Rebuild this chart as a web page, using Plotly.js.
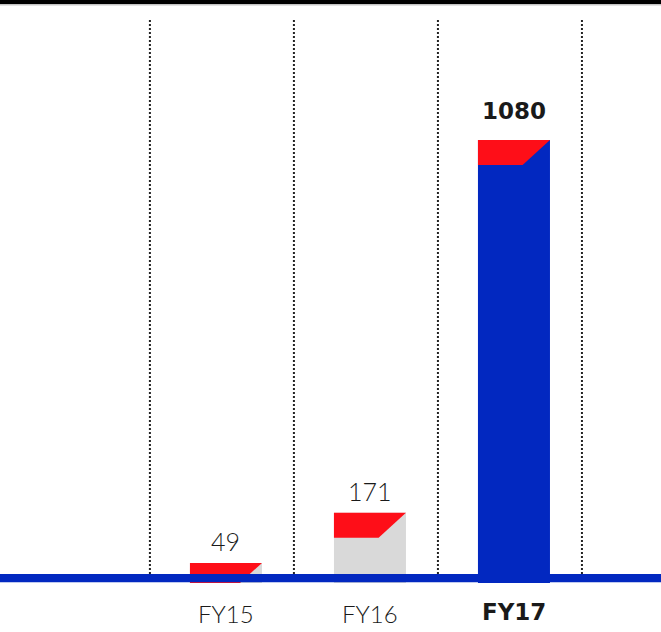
<!DOCTYPE html>
<html>
<head>
<meta charset="utf-8">
<script src="https://cdn.plot.ly/plotly-3.0.1.min.js"></script>
<style>html,body{margin:0;padding:0;background:#fff;}#chart{width:661px;height:632px;}</style>
</head>
<body>
<div id="chart"></div>
<script>
// ---- data ----
var categories = ['FY15', 'FY16', 'FY17'];
var values = [49, 171, 1080];
var barColors = ['#d9d9d9', '#d9d9d9', '#0228c0'];
var boldCategory = [false, false, true];

// ---- style constants ----
var RED = '#fe0e18';
var BLUE = '#0228c0';
var HALF = 0.25;      // half bar width (x units)
var CAP = 61;         // red cap depth (y units)
var RUN = 0.19;       // horizontal run of the diagonal (x units)

var xs = categories.map(function (c, i) { return i; });

var traces = [{
  type: 'bar',
  x: xs,
  y: values,
  width: HALF * 2,
  marker: {color: barColors, line: {width: 0}},
  hoverinfo: 'skip'
}];

// red caps with diagonal cut, clipped at zero
values.forEach(function (v, i) {
  var c = xs[i];
  var px = [c - HALF, c + HALF];
  var py = [v, v];
  if (v - CAP >= 0) {
    px.push(c + HALF - RUN, c - HALF);
    py.push(v - CAP, v - CAP);
  } else {
    px.push(c + HALF - RUN * v / CAP, c - HALF);
    py.push(0, 0);
  }
  px.push(c - HALF); py.push(v);
  traces.push({
    type: 'scatter', mode: 'lines', x: px, y: py,
    fill: 'toself', fillcolor: RED, line: {width: 0, color: RED},
    hoverinfo: 'skip', showlegend: false
  });
});

var shapes = [];
// dotted separators
[-0.528, 0.472, 1.472, 2.472].forEach(function (d) {
  shapes.push({type: 'line', xref: 'x', yref: 'y', x0: d, x1: d, y0: 22, y1: 1377,
    line: {color: '#222222', width: 2, dash: '2px,2px'}, layer: 'below'});
});
// top black rule
shapes.push({type: 'rect', xref: 'paper', yref: 'paper', x0: 0, x1: 1, y0: 1 - 4.3 / 632, y1: 1,
  fillcolor: '#000000', line: {width: 0}});
shapes.push({type: 'line', xref: 'paper', yref: 'paper', x0: 0, x1: 1, y0: 1 - 5 / 632, y1: 1 - 5 / 632,
  line: {color: '#c8c8c8', width: 1}});
// blue baseline
shapes.push({type: 'rect', xref: 'paper', yref: 'y', x0: 0, x1: 1, y0: 1.5, y1: 21.9,
  fillcolor: BLUE, line: {width: 0}, layer: 'above'});

var annotations = [];
values.forEach(function (v, i) {
  var b = boldCategory[i];
  annotations.push({
    x: xs[i], y: v, xref: 'x', yref: 'y', yanchor: 'bottom', yshift: b ? 14 : 5, showarrow: false,
    text: b ? '<b>' + v + '</b>' : String(v),
    font: b ? {family: 'DejaVu Sans, sans-serif', size: 23, color: '#1a1a1a', weight: 700}
            : {family: 'Lato, sans-serif', size: 25, color: '#1a1a1a', weight: 300}
  });
  annotations.push({
    x: xs[i], y: 0, xref: 'x', yref: 'y', yanchor: 'top', yshift: -14, showarrow: false,
    text: b ? '<b>' + categories[i] + '</b>' : categories[i],
    font: b ? {family: 'DejaVu Sans, sans-serif', size: 23, color: '#1a1a1a', weight: 700}
            : {family: 'Lato, sans-serif', size: 24, color: '#1a1a1a', weight: 300}
  });
});

var layout = {
  width: 661, height: 632,
  margin: {l: 0, r: 0, t: 0, b: 0, pad: 0},
  paper_bgcolor: '#ffffff', plot_bgcolor: '#ffffff',
  showlegend: false,
  xaxis: {range: [-1.569, 3.021], visible: false, fixedrange: true},
  yaxis: {range: [-119.5, 1421.3], visible: false, fixedrange: true},
  shapes: shapes,
  annotations: annotations
};

Plotly.newPlot('chart', traces, layout, {displayModeBar: false, staticPlot: true});
</script>
</body>
</html>
